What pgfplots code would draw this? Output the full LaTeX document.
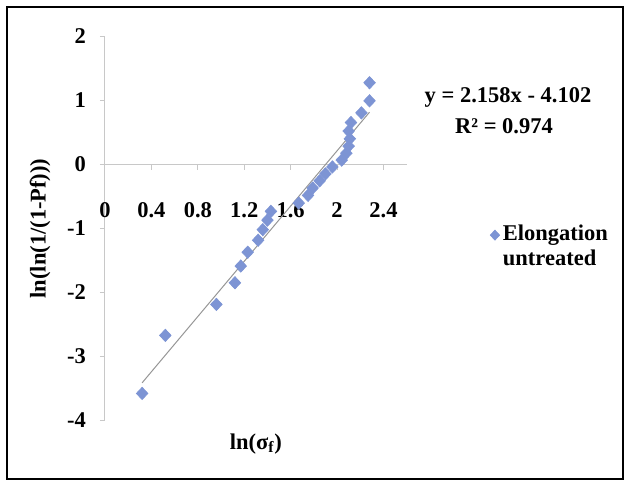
\documentclass[border=0pt]{standalone}
\usepackage{pgfplots}
\pgfplotsset{compat=1.18}
\usepackage{fontspec}
\setmainfont{Liberation Serif}
\definecolor{markblue}{RGB}{125,148,212}
\definecolor{axisgray}{RGB}{200,200,200}
\definecolor{trendgray}{RGB}{150,150,150}
\newcommand{\chartfont}{\bfseries\fontsize{13.5}{15.5}\selectfont}
\begin{document}
\begin{tikzpicture}
\useasboundingbox (0,0) rectangle (375pt,290.4pt);
\draw[black, line width=1.2pt] (4.2pt,3pt) rectangle (373.8pt,286.2pt);
\begin{axis}[
  at={(63pt,38.1pt)}, anchor=south west,
  scale only axis, width=181pt, height=230.4pt,
  xmin=0, xmax=2.6, ymin=-4, ymax=2,
  axis lines=middle,
  axis line style={-, color=axisgray, line width=0.6pt},
  xtick={0,0.4,0.8,1.2,1.6,2,2.4},
  xticklabels={0,0.4,0.8,1.2,1.6,2,2.4},
  ytick={-4,-3,-2,-1,0,1,2},
  yticklabels={-4,-3,-2,-1,0,1,2},
  tick align=outside, major tick length=3pt,
  tick style={color=axisgray, line width=0.6pt},
  hide obscured x ticks=false, hide obscured y ticks=false,
  ticklabel style={font=\chartfont},
  /pgf/number format/assume math mode=true,
  xticklabel style={yshift=-16.5pt},
  yticklabel style={xshift=-5pt},
  xlabel={ln(σ\textsubscript{f})},
  ylabel={ln(ln(1/(1-Pf)))},
  xlabel style={at={(axis description cs:0.5,0)}, anchor=center, yshift=-14pt, font=\chartfont},
  ylabel style={at={(axis description cs:0,0.5)}, anchor=center, rotate=90, yshift=39pt, font=\chartfont},
  clip=false,
  legend style={at={(axis description cs:1.276,0.52)}, anchor=north west, draw=none, fill=none,
    inner xsep=0pt, inner ysep=0pt, font=\chartfont,
    cells={align=left}},
  legend cell align=left,
  legend image post style={yshift=6.8pt, mark size=3pt},
]
\addplot[only marks, mark=diamond*, mark size=3.7pt, mark options={fill=markblue, draw=markblue, xscale=1.25}, color=markblue]
coordinates {
(0.32,-3.577) (0.52,-2.670) (0.96,-2.186) (1.12,-1.848) (1.17,-1.587)
(1.23,-1.370) (1.32,-1.183) (1.36,-1.018) (1.40,-0.869) (1.43,-0.732)
(1.67,-0.603) (1.75,-0.482) (1.79,-0.367) (1.85,-0.255) (1.90,-0.146)
(1.96,-0.038) (2.04,0.069) (2.08,0.177) (2.10,0.287) (2.11,0.402)
(2.10,0.523) (2.12,0.656) (2.21,0.807) (2.28,0.995) (2.28,1.278)
};
\addlegendentry{Elongation\\untreated}
\addplot[trendgray, line width=0.6pt, forget plot] coordinates {(0.32,-3.411) (2.28,0.818)};
\end{axis}
\node[font=\chartfont] at (304.8pt,232.2pt) {y = 2.158x - 4.102};
\node[font=\chartfont] at (302.4pt,214.8pt) {R² = 0.974};
\end{tikzpicture}
\end{document}
